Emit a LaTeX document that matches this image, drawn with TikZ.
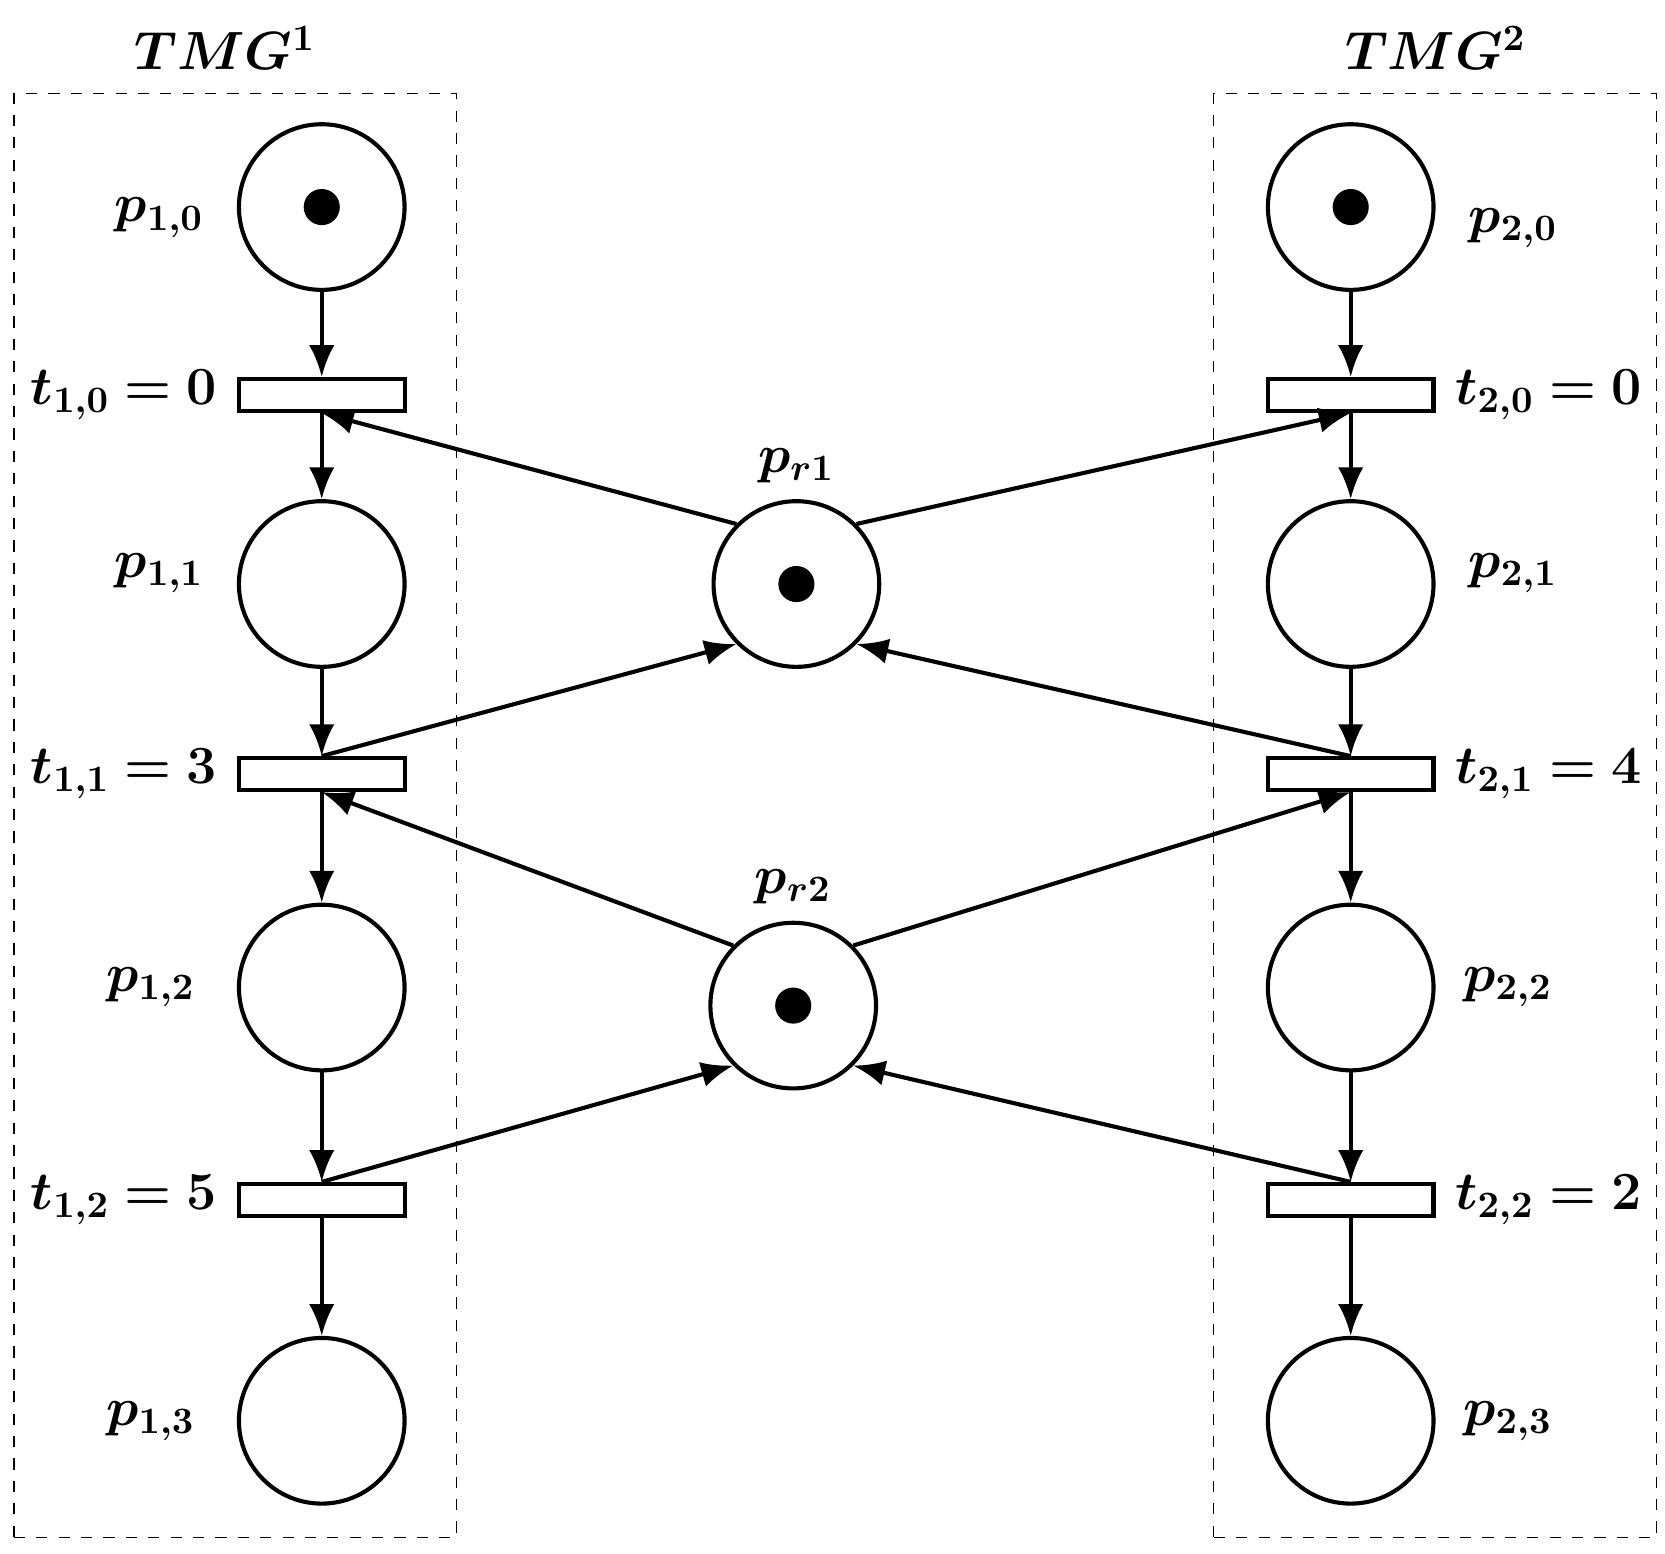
\documentclass[tikz,border=0pt]{standalone}
\usepackage{bm}
\usetikzlibrary{arrows.meta}
\usetikzlibrary{positioning}
\begin{document}
\begin{tikzpicture}[every node/.style={line width=1.1pt},
	place/.style={draw,circle,minimum size=1.56cm,inner sep=0pt},
	trans/.style={draw,rectangle,minimum width=1.56cm,minimum height=0.3cm,inner sep=0pt},
	token/.style={fill,circle,minimum size=0.34cm,inner sep=0pt},
	lbl/.style={font=\Large,draw=none},
	arc/.style={line width=1.1pt,-{Latex[length=0.3cm,width=0.24cm]}}]
	\useasboundingbox (0,0) rectangle (15.68,14.63);

	\node[draw,dashed,thin,minimum width=4.17cm,minimum height=13.6cm] (box1) at (2.215,6.95) {};
	\node[draw,dashed,thin,minimum width=4.17cm,minimum height=13.6cm] (box2) at (13.515,6.95) {};
	\node[lbl] (tmg1) at (2.12,14.18) {$\bm{TMG^1}$};
	\node[lbl] (tmg2) at (13.52,14.18) {$\bm{TMG^2}$};

	% TMG 1
	\node[place] (p10) at (3.03,12.68) {};
	\node[token] at (p10) {};
	\node[trans] (t10) at (3.03,10.91) {};
	\node[place] (p11) at (3.03,9.13) {};
	\node[trans] (t11) at (3.03,7.34) {};
	\node[place] (p12) at (3.03,5.33) {};
	\node[trans] (t12) at (3.03,3.33) {};
	\node[place] (p13) at (3.03,1.25) {};

	\node[lbl] at (1.5,12.58) {$\bm{p_{1,0}}$};
	\node[lbl] at (1.5,9.23) {$\bm{p_{1,1}}$};
	\node[lbl] at (1.42,5.33) {$\bm{p_{1,2}}$};
	\node[lbl] at (1.42,1.25) {$\bm{p_{1,3}}$};
	\node[lbl,left=0.05cm of t10] {$\bm{t_{1,0}=0}$};
	\node[lbl,left=0.05cm of t11] {$\bm{t_{1,1}=3}$};
	\node[lbl,left=0.05cm of t12] {$\bm{t_{1,2}=5}$};

	% TMG 2
	\node[place] (p20) at (12.72,12.68) {};
	\node[token] at (p20) {};
	\node[trans] (t20) at (12.72,10.91) {};
	\node[place] (p21) at (12.72,9.13) {};
	\node[trans] (t21) at (12.72,7.34) {};
	\node[place] (p22) at (12.72,5.33) {};
	\node[trans] (t22) at (12.72,3.33) {};
	\node[place] (p23) at (12.72,1.25) {};

	\node[lbl] at (14.25,12.48) {$\bm{p_{2,0}}$};
	\node[lbl] at (14.25,9.23) {$\bm{p_{2,1}}$};
	\node[lbl] at (14.2,5.33) {$\bm{p_{2,2}}$};
	\node[lbl] at (14.2,1.25) {$\bm{p_{2,3}}$};
	\node[lbl,right=0.05cm of t20] {$\bm{t_{2,0}=0}$};
	\node[lbl,right=0.05cm of t21] {$\bm{t_{2,1}=4}$};
	\node[lbl,right=0.05cm of t22] {$\bm{t_{2,2}=2}$};

	% resources
	\node[place] (pr1) at (7.5,9.13) {};
	\node[token] at (pr1) {};
	\node[lbl,above=0.02cm of pr1] {$\bm{p_{r1}}$};
	\node[place] (pr2) at (7.47,5.16) {};
	\node[token] at (pr2) {};
	\node[lbl,above=0.02cm of pr2] {$\bm{p_{r2}}$};

	\foreach \a/\b in {p10/t10,t10/p11,p11/t11,t11/p12,p12/t12,t12/p13,
		p20/t20,t20/p21,p21/t21,t21/p22,p22/t22,t22/p23}
		\draw[arc] (\a) -- (\b);

	\draw[arc] (pr1.north west) -- (t10.south);
	\draw[arc] (pr1.north east) -- (t20.south);
	\draw[arc] (t11.north) -- (pr1.south west);
	\draw[arc] (t21.north) -- (pr1.south east);
	\draw[arc] (pr2.north west) -- (t11.south);
	\draw[arc] (pr2.north east) -- (t21.south);
	\draw[arc] (t12.north) -- (pr2.south west);
	\draw[arc] (t22.north) -- (pr2.south east);
\end{tikzpicture}
\end{document}
